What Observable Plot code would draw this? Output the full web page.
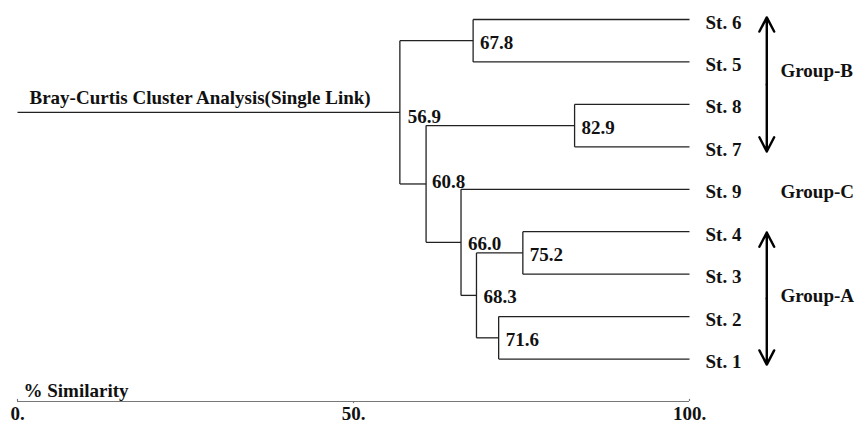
<!DOCTYPE html>
<html>
<head>
<meta charset="utf-8">
<script src="https://cdn.jsdelivr.net/npm/d3@7"></script>
<script src="https://cdn.jsdelivr.net/npm/@observablehq/plot@0.6"></script>
<style>
  html, body { margin: 0; padding: 0; background: #fff; }
  #chart svg { display: block; }
</style>
</head>
<body>
<div id="chart"></div>
<script>
// ---- data ----
const leaves = ["St. 6", "St. 5", "St. 8", "St. 7", "St. 9", "St. 4", "St. 3", "St. 2", "St. 1"];
const nodeNames = ["67.8", "82.9", "75.2", "71.6", "68.3", "66.0", "60.8", "56.9"];
const similarity = [67.8, 82.9, 75.2, 71.6, 68.3, 66.0, 60.8, 56.9];
const childA = ["St. 6", "St. 8", "St. 4", "St. 2", "75.2", "St. 9", "82.9", "67.8"];
const childB = ["St. 5", "St. 7", "St. 3", "St. 1", "71.6", "68.3", "66.0", "60.8"];
const groupLabels = ["Group-B", "Group-C", "Group-A"];
const groupPos = [1.15, 4, 6.45];
const arrowGroups = ["Group-B", "Group-A"];
const arrowTop = [-0.05, 5.02];
const arrowBottom = [3.11, 8.13];
const xTicks = [0, 50, 100];
const title = "Bray-Curtis Cluster Analysis(Single Link)";
const axisTitle = "% Similarity";

// ---- build tree geometry from the arrays ----
const pos = new Map();
leaves.forEach((name, i) => pos.set(name, {x: 100, y: i}));
const nodes = [];
const segments = [];
nodeNames.forEach((name, i) => {
  const a = pos.get(childA[i]), b = pos.get(childB[i]);
  const s = similarity[i];
  const n = {name, x: s, y: (a.y + b.y) / 2};
  pos.set(name, n);
  nodes.push(n);
  segments.push({x1: s, y1: a.y, x2: s, y2: b.y});
  segments.push({x1: s, y1: a.y, x2: a.x, y2: a.y});
  segments.push({x1: s, y1: b.y, x2: b.x, y2: b.y});
});
const root = nodes[nodes.length - 1];
segments.push({x1: 0, y1: root.y, x2: root.x, y2: root.y});

const leafData = leaves.map((name, i) => ({name, y: i}));
const groupData = groupLabels.map((g, i) => ({g, y: groupPos[i]}));
const arrows = [];
arrowGroups.forEach((g, i) => {
  const mid = (arrowTop[i] + arrowBottom[i]) / 2;
  arrows.push({y1: mid, y2: arrowTop[i]});
  arrows.push({y1: mid, y2: arrowBottom[i]});
});
const arrowX = 111.5;

const font = "'Liberation Serif', 'Times New Roman', serif";
const fs = 19;
const textStyle = {fontSize: fs, fontWeight: "bold", fill: "#111"};

// label placement styles: root label sits below its line, 60.8 sits above the St. 9 branch
const belowNodes = ["56.9"];
const aboveNodes = ["60.8"];
const midNodes = nodes.filter(d => !belowNodes.includes(d.name) && !aboveNodes.includes(d.name));

const chart = Plot.plot({
  width: 855,
  height: 427,
  marginTop: 0,
  marginBottom: 26,
  marginLeft: 17,
  marginRight: 166,
  style: {fontFamily: font, fontWeight: "bold", background: "#fff", color: "#111"},
  x: {domain: [0, 100], range: [17, 689], axis: null},
  y: {domain: [0, 9], range: [19, 401], axis: null},
  marks: [
    Plot.link(segments, {x1: "x1", y1: "y1", x2: "x2", y2: "y2", stroke: "#222", strokeWidth: 1.3}),
    Plot.text(midNodes, {x: "x", y: "y", text: "name", textAnchor: "start", dx: 7, dy: 2, ...textStyle}),
    Plot.text(nodes.filter(d => belowNodes.includes(d.name)), {x: "x", y: "y", text: "name", textAnchor: "start", lineAnchor: "top", dx: 8, dy: -3, ...textStyle}),
    Plot.text(nodes.filter(d => aboveNodes.includes(d.name)), {x: "x", y: "y", text: "name", textAnchor: "start", lineAnchor: "bottom", dx: 6, dy: 4, ...textStyle}),
    Plot.text(leafData, {x: 100, y: "y", text: "name", textAnchor: "start", dx: 16, dy: 3, ...textStyle}),
    Plot.text(groupData, {x: 100, y: "y", text: "g", textAnchor: "start", dx: 91, dy: 3, ...textStyle}),
    Plot.arrow(arrows, {x1: arrowX, x2: arrowX, y1: "y1", y2: "y2", stroke: "#000", strokeWidth: 2.4, headLength: 10, headAngle: 55}),
    Plot.text([title], {x: 0, y: root.y, text: d => d, textAnchor: "start", lineAnchor: "bottom", dx: 12, dy: -8, ...textStyle}),
    Plot.ruleY([9], {x1: 0, x2: 100, stroke: "#777", strokeWidth: 1.2}),
    Plot.ruleX([0, 100], {y1: 9, y2: 8.95, stroke: "#777", strokeWidth: 1.2}),
    Plot.ruleX([50], {y1: 9, y2: 9.05, stroke: "#777", strokeWidth: 1.2}),
    Plot.text([axisTitle], {x: 0, y: 9, text: d => d, textAnchor: "start", lineAnchor: "bottom", dx: 6, dy: -5, ...textStyle}),
    Plot.text(xTicks, {x: d => d, y: 9, text: d => d + ".", textAnchor: "middle", lineAnchor: "top", dy: 5, ...textStyle})
  ]
});
document.getElementById("chart").appendChild(chart);
</script>
</body>
</html>
